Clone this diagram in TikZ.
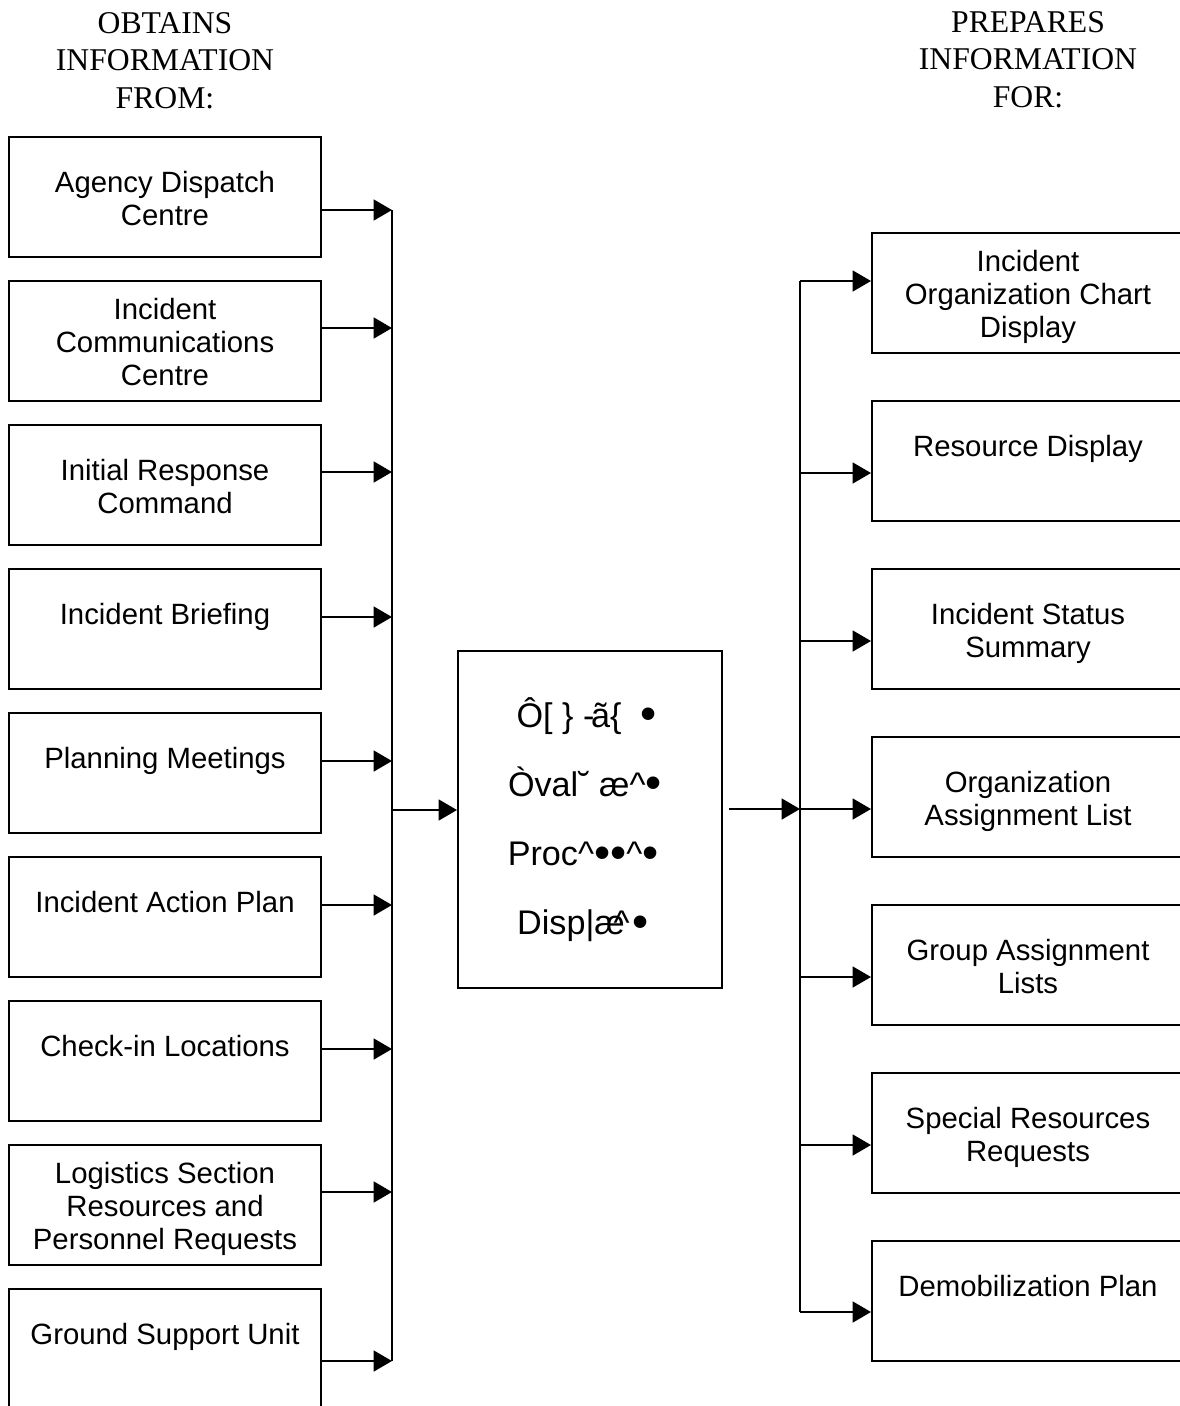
\documentclass[tikz,border=0pt]{standalone}
\usepackage{fontspec}
\setmainfont{Liberation Sans}
\newfontfamily\headfont{Liberation Serif}
\usetikzlibrary{arrows.meta}

% enlarged bullet, sitting on the x-height middle
\newcommand\bigdot{\raisebox{-0.08em}{\scalebox{1.35}{•}}}

\tikzset{
  box/.style={draw, line width=1.2pt, minimum width=187.2pt, minimum height=72pt,
    inner sep=0pt},
  lbl/.style={yshift=-3.6pt, inner sep=0pt, align=center,
    font=\fontsize{17.6}{19.8}\selectfont,
    execute at begin node=\strut, execute at end node=\strut},
  txt/.style={label={[lbl]center:{#1}}},
  hub/.style={draw, line width=1.2pt, minimum width=158.4pt, minimum height=202.2pt,
    inner sep=0pt, align=center, font=\fontsize{20.5}{41.5}\selectfont},
  head/.style={align=center, inner sep=0pt, anchor=north,
    font=\headfont\fontsize{19}{22.5}\selectfont},
  wire/.style={line width=1.2pt},
  feed/.style={line width=1.2pt, -{Triangle[length=11pt,width=12.5pt]}}
}

\begin{document}
\begin{tikzpicture}[x=0.6pt, y=-0.6pt]
\useasboundingbox (0,0) rectangle (1180,1406);
\clip (0,0) rectangle (1180,1406);

% column headings
\node[head] (hl) at (165,12) {OBTAINS\\INFORMATION\\FROM:};
\node[head] (hr) at (1028,11) {PREPARES\\INFORMATION\\FOR:};

% sources
\node[box, txt={Agency Dispatch\\Centre}] (L1) at (165,197) {};
\node[box, txt={Incident\\Communications\\Centre}] (L2) at (165,341) {};
\node[box, txt={Initial Response\\Command}] (L3) at (165,485) {};
\node[box, txt={Incident Briefing\\}] (L4) at (165,629) {};
\node[box, txt={Planning Meetings\\}] (L5) at (165,773) {};
\node[box, txt={Incident Action Plan\\}] (L6) at (165,917) {};
\node[box, txt={Check-in Locations\\}] (L7) at (165,1061) {};
\node[box, txt={Logistics Section\\Resources and\\Personnel Requests}] (L8) at (165,1205) {};
\node[box, txt={Ground Support Unit\\}] (L9) at (165,1349) {};

% central unit
\node[hub] (C) at (590,819.5) {\kern-0.2em Ô[ \textbraceright{} -\kern-2pt ã\textbraceleft{} \ \bigdot\\
  \kern-0.3em Òval˘ æ\textasciicircum\bigdot\\
  \kern-0.4em Proc\textasciicircum\bigdot\bigdot\textasciicircum\bigdot\\
  \kern-0.4em Disp|æ\kern-0.33em\textasciicircum\kern0.1em \bigdot};

% products
\node[box, txt={Incident\\Organization Chart\\Display}] (R1) at (1028,293) {};
\node[box, txt={Resource Display\\}] (R2) at (1028,461) {};
\node[box, txt={Incident Status\\Summary}] (R3) at (1028,629) {};
\node[box, txt={Organization\\Assignment List}] (R4) at (1028,797) {};
\node[box, txt={Group Assignment\\Lists}] (R5) at (1028,965) {};
\node[box, txt={Special Resources\\Requests}] (R6) at (1028,1133) {};
\node[box, txt={Demobilization Plan\\}] (R7) at (1028,1301) {};

% input bus
\coordinate (b1) at (392,210);
\coordinate (b2) at (392,328);
\coordinate (b3) at (392,472);
\coordinate (b4) at (392,617);
\coordinate (b5) at (392,761);
\coordinate (b6) at (392,905);
\coordinate (b7) at (392,1049);
\coordinate (b8) at (392,1192);
\coordinate (b9) at (392,1361);
\coordinate (bm) at (392,810);
\draw[wire] (b1) -- (b9);
\foreach \i in {1,...,9} \draw[feed] (L\i.east |- b\i) -- (b\i);
\draw[feed] (bm) -- (C.west |- bm);

% output bus
\coordinate (r1) at (800,281);
\coordinate (r2) at (800,473);
\coordinate (r3) at (800,641);
\coordinate (r4) at (800,809);
\coordinate (r5) at (800,977);
\coordinate (r6) at (800,1145);
\coordinate (r7) at (800,1312);
\draw[wire] (r1) -- (r7);
\draw[feed] (C.east |- r4) ++(6,0) -- (r4);
\foreach \i in {1,...,7} \draw[feed] (r\i) -- (R\i.west |- r\i);
\end{tikzpicture}
\end{document}
